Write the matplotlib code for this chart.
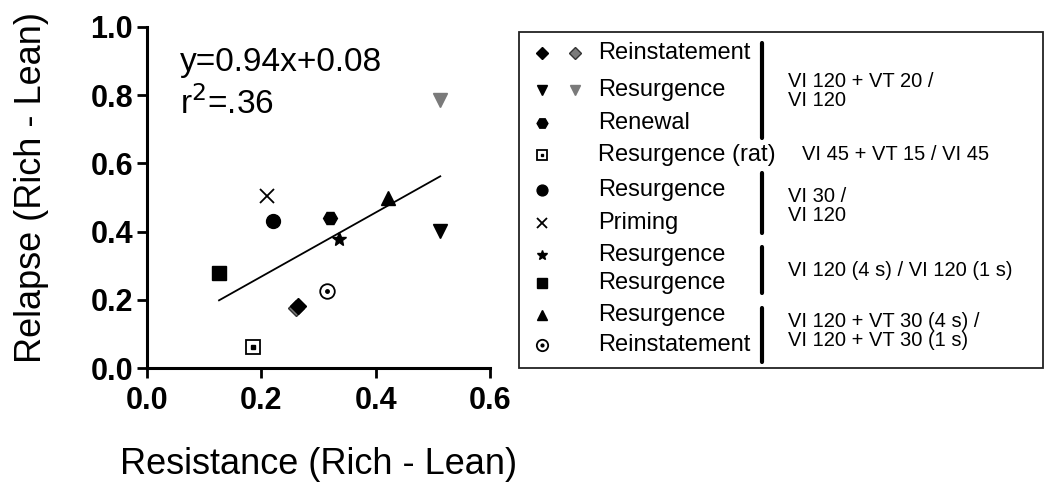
import matplotlib
matplotlib.use("Agg")
import matplotlib.pyplot as plt
from matplotlib.patches import Rectangle

plt.rcParams['font.family'] = ['Liberation Sans', 'DejaVu Sans']

# data: resistance (x) vs relapse (y)
point_names = ['Reinstatement (gray)', 'Reinstatement', 'Resurgence', 'Resurgence (gray)',
               'Renewal', 'Resurgence (rat)', 'Resurgence VI30', 'Priming',
               'Resurgence 4s', 'Resurgence 1s', 'Resurgence VT30', 'Reinstatement VT30']
resistance = [0.261, 0.264, 0.513, 0.513, 0.320, 0.185, 0.220, 0.210, 0.336, 0.126, 0.422, 0.315]
relapse = [0.177, 0.181, 0.402, 0.787, 0.440, 0.062, 0.431, 0.504, 0.379, 0.280, 0.499, 0.227]

slope = 0.94
intercept = 0.08
r_squared = '.36'

legend_labels = ['Reinstatement', 'Resurgence', 'Renewal', 'Resurgence (rat)', 'Resurgence',
                 'Priming', 'Resurgence', 'Resurgence', 'Resurgence', 'Reinstatement']
schedule_labels = ['VI 120 + VT 20 /\nVI 120', 'VI 45 + VT 15 / VI 45', 'VI 30 /\nVI 120',
                   'VI 120 (4 s) / VI 120 (1 s)', 'VI 120 + VT 30 (4 s) /\nVI 120 + VT 30 (1 s)']

x_ticks = [0.0, 0.2, 0.4, 0.6]
y_ticks = [0.0, 0.2, 0.4, 0.6, 0.8, 1.0]

GRAY = '#7a7a7a'

# marker styles per point (same order as data)
styles = [
    dict(marker='D', ms=8, mfc=GRAY, mec='#333333', mew=1.0),
    dict(marker='D', ms=8, mfc='black', mec='black'),
    dict(marker='v', ms=10, mfc='black', mec='black'),
    dict(marker='v', ms=10, mfc=GRAY, mec=GRAY),
    dict(marker='H', ms=10, mfc='black', mec='black'),
    dict(marker='s', ms=9.5, mfc='white', mec='black', mew=1.3),
    dict(marker='o', ms=10, mfc='black', mec='black'),
    dict(marker='x', ms=10, mfc='black', mec='black', mew=1.3),
    dict(marker='*', ms=10, mfc='black', mec='black'),
    dict(marker='s', ms=9.5, mfc='black', mec='black'),
    dict(marker='^', ms=10, mfc='black', mec='black'),
    dict(marker='o', ms=10.5, mfc='white', mec='black', mew=1.3),
]
# small centre dots for the dotted square / dotted circle
dotted = {5: 's', 11: 'o'}

fig = plt.figure(figsize=(10.5, 5), dpi=100)
ax = fig.add_axes([147 / 1050, 1 - 368 / 500, (490 - 147) / 1050, (368 - 27) / 500])

for i, (x, y) in enumerate(zip(resistance, relapse)):
    ax.plot([x], [y], linestyle='none', zorder=3, clip_on=False, **styles[i])
    if i in dotted:
        ax.plot([x], [y], linestyle='none', marker=dotted[i], ms=2.5,
                mfc='black', mec='black', zorder=4)

xl = [min(resistance), max(resistance)]
ax.plot(xl, [slope * v + intercept for v in xl], color='black', lw=1.3, zorder=2)

ax.text(0.095, 0.87, 'y={:.2f}x+{:.2f}'.format(slope, intercept), fontsize=24,
        transform=ax.transAxes, va='baseline', ha='left')
ax.text(0.095, 0.745, 'r$^2$=' + r_squared, fontsize=24,
        transform=ax.transAxes, va='baseline', ha='left')

ax.set_xlim(0, 0.6)
ax.set_ylim(0, 1.0)
ax.set_xticks(x_ticks)
ax.set_yticks(y_ticks)
ax.set_xticklabels(['{:.1f}'.format(v) for v in x_ticks], fontsize=22, fontweight='bold')
ax.set_yticklabels(['{:.1f}'.format(v) for v in y_ticks], fontsize=22, fontweight='bold')
for s in ['top', 'right']:
    ax.spines[s].set_visible(False)
for s in ['left', 'bottom']:
    ax.spines[s].set_linewidth(2.2)
ax.tick_params(axis='x', length=7, width=2, pad=6)
ax.tick_params(axis='y', length=7, width=2, pad=3)
ax.set_xlabel('Resistance (Rich - Lean)', fontsize=26, labelpad=22)
ax.set_ylabel('Relapse (Rich - Lean)', fontsize=26)
ax.yaxis.set_label_coords(-0.285, 0.528)

# legend panel drawn in pixel coordinates
lg = fig.add_axes([0, 0, 1, 1])
lg.set_xlim(0, 1050)
lg.set_ylim(500, 0)
lg.axis('off')
lg.add_patch(Rectangle((519, 32), 524, 336, fill=False, ec='#222222', lw=1.3))

row_y = [53, 90, 123, 155, 190, 223, 255, 283, 315, 345]
# which data points show in each legend row (first column, second column)
row_points = [(1, 0), (2, 3), (4, None), (5, None), (6, None),
              (7, None), (8, None), (9, None), (10, None), (11, None)]
col_x = [542, 575]
for r, (yy, pts) in enumerate(zip(row_y, row_points)):
    for c, p in enumerate(pts):
        if p is None:
            continue
        st = dict(styles[p])
        st['ms'] = st['ms'] * 0.78
        lg.plot([col_x[c]], [yy], linestyle='none', **st)
        if p in dotted:
            lg.plot([col_x[c]], [yy], linestyle='none', marker=dotted[p], ms=2,
                    mfc='black', mec='black')
    lg.text(598, yy, legend_labels[r], fontsize=17, va='center', ha='left')

bars = [(43, 138), (173, 233), (247, 293), (308, 362)]
for y0, y1 in bars:
    lg.plot([762, 762], [y0, y1], color='black', lw=3, solid_capstyle='round')

sched_pos = [(788, 91), (802, 155), (788, 206), (788, 270), (788, 331)]
for (sx, sy), txt in zip(sched_pos, schedule_labels):
    lg.text(sx, sy, txt, fontsize=14.5, va='center', ha='left', linespacing=1.0)

fig.savefig('out.png', dpi=100)
